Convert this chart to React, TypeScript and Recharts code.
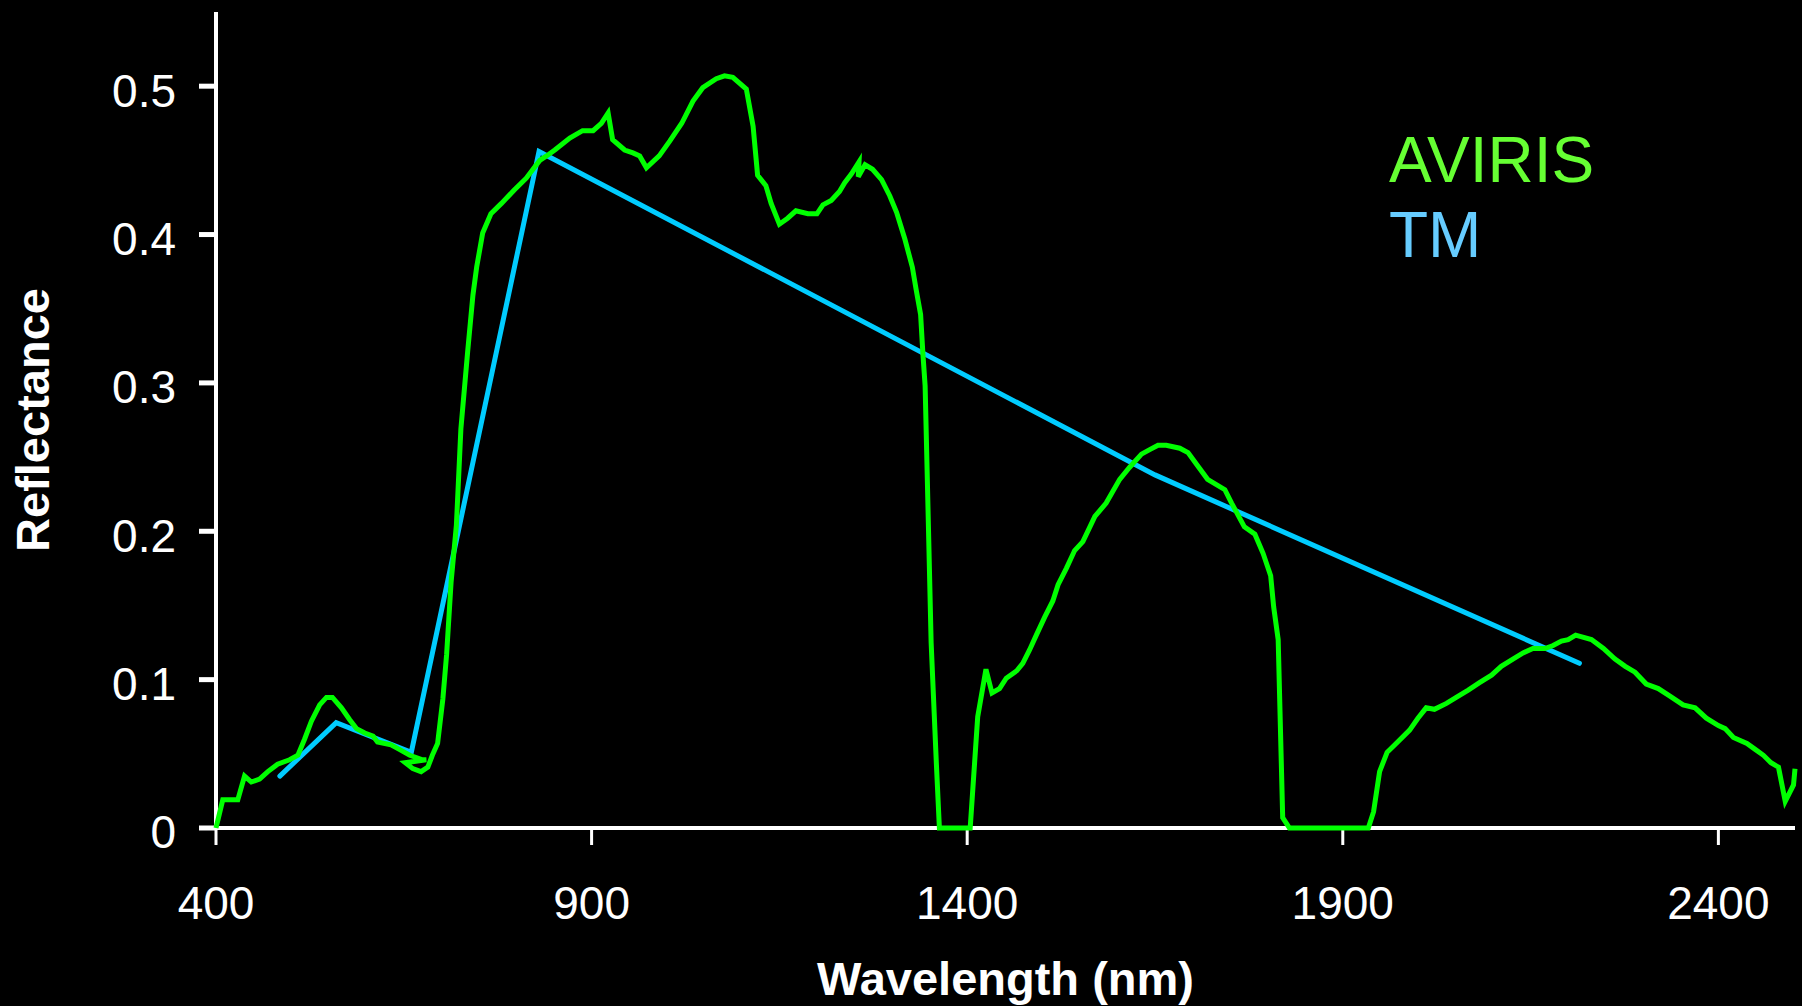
import { LineChart, Line, XAxis, YAxis, Legend } from 'recharts';

// AVIRIS spectrum (nm, reflectance); order kept as drawn
const avirisWavelength = [
  400, 409, 429, 438, 447, 458, 469, 482, 498, 509, 518, 527, 538, 547, 555, 567, 578, 587, 598, 609,
  615, 633, 644, 658, 675, 680, 652, 662, 673, 682, 688, 695, 702, 707, 713, 720, 726, 735, 742, 747,
  755, 766, 780, 797, 813, 822, 831, 840, 851, 871, 888, 902, 913, 922, 928, 944, 955, 964, 973, 990,
  1004, 1020, 1035, 1048, 1066, 1077, 1088, 1106, 1115, 1121, 1132, 1139, 1150, 1161, 1172, 1188, 1200, 1208, 1219, 1230,
  1237, 1246, 1256, 1255, 1264, 1274, 1286, 1297, 1306, 1317, 1327, 1332, 1338, 1341, 1344, 1348, 1352, 1359, 1363, 1404,
  1414, 1425, 1433, 1443, 1452, 1466, 1474, 1483, 1492, 1503, 1514, 1521, 1532, 1543, 1554, 1570, 1585, 1603, 1616, 1632,
  1643, 1654, 1665, 1683, 1694, 1707, 1720, 1743, 1752, 1769, 1783, 1794, 1804, 1808, 1814, 1820, 1829, 1934, 1941, 1949,
  1959, 1971, 1989, 2000, 2011, 2022, 2038, 2051, 2067, 2082, 2098, 2111, 2127, 2140, 2153, 2169, 2180, 2191, 2200, 2210,
  2231, 2247, 2262, 2276, 2289, 2304, 2320, 2335, 2353, 2369, 2384, 2400, 2409, 2420, 2438, 2449, 2460, 2470, 2480, 2489,
  2500, 2502,
];
const avirisReflectance = [
  0, 0.019, 0.019, 0.035, 0.031, 0.033, 0.038, 0.043, 0.046, 0.049, 0.06, 0.072, 0.083, 0.088, 0.088, 0.081, 0.073, 0.067, 0.064, 0.062,
  0.058, 0.056, 0.053, 0.049, 0.046, 0.046, 0.044, 0.04, 0.038, 0.041, 0.049, 0.057, 0.087, 0.117, 0.166, 0.204, 0.269, 0.321, 0.359, 0.378,
  0.401, 0.414, 0.421, 0.43, 0.438, 0.444, 0.45, 0.453, 0.457, 0.465, 0.47, 0.47, 0.475, 0.482, 0.464, 0.457, 0.455, 0.453, 0.445, 0.453,
  0.463, 0.475, 0.49, 0.499, 0.505, 0.507, 0.506, 0.498, 0.473, 0.44, 0.433, 0.421, 0.407, 0.411, 0.416, 0.414, 0.414, 0.42, 0.423, 0.429,
  0.435, 0.441, 0.449, 0.439, 0.447, 0.444, 0.437, 0.426, 0.415, 0.397, 0.378, 0.363, 0.346, 0.32, 0.298, 0.212, 0.125, 0.043, 0, 0,
  0.075, 0.107, 0.091, 0.094, 0.101, 0.106, 0.111, 0.12, 0.13, 0.142, 0.153, 0.164, 0.175, 0.187, 0.193, 0.21, 0.219, 0.235, 0.243, 0.252,
  0.255, 0.258, 0.258, 0.256, 0.253, 0.244, 0.235, 0.228, 0.219, 0.203, 0.198, 0.185, 0.17, 0.149, 0.127, 0.007, 0, 0, 0.011, 0.038,
  0.051, 0.057, 0.066, 0.074, 0.081, 0.08, 0.084, 0.088, 0.093, 0.098, 0.103, 0.109, 0.114, 0.118, 0.121, 0.121, 0.123, 0.126, 0.127, 0.13,
  0.127, 0.121, 0.114, 0.109, 0.105, 0.097, 0.094, 0.089, 0.083, 0.081, 0.074, 0.069, 0.067, 0.061, 0.057, 0.053, 0.049, 0.044, 0.041, 0.018,
  0.029, 0.04,
];

// Landsat TM band values
const tmWavelength = [485, 560, 660, 830, 1650, 2215];
const tmReflectance = [0.035, 0.071, 0.051, 0.456, 0.238, 0.111];

const xTicks = [400, 900, 1400, 1900, 2400];
const yTicks = [0, 0.1, 0.2, 0.3, 0.4, 0.5];

const seriesNames = ['AVIRIS', 'TM'];
const lineColors = ['#00ff00', '#00ccff'];
const legendColors = ['#66ff33', '#66ccff'];

const avirisData = avirisWavelength.map((wl, i) => ({ wl, refl: avirisReflectance[i] }));
const tmData = tmWavelength.map((wl, i) => ({ wl, refl: tmReflectance[i] }));

const font = '"Liberation Sans", Arial, sans-serif';

const renderLegend = () => (
  <div style={{ fontFamily: font, fontSize: 64, lineHeight: '75px' }}>
    {seriesNames.map((name, i) => (
      <div key={name} style={{ color: legendColors[i] }}>
        {name}
      </div>
    ))}
  </div>
);

export default function App() {
  return (
    <div style={{ position: 'fixed', left: 0, top: 0, width: 1802, height: 1006, background: '#000' }}>
      <LineChart width={1802} height={1006} margin={{ top: 12, right: 7, bottom: 0, left: 0 }}>
        <XAxis
          type="number"
          dataKey="wl"
          domain={[400, 2502]}
          ticks={xTicks}
          height={178}
          tickSize={17}
          tickMargin={41}
          axisLine={{ stroke: '#fff', strokeWidth: 4 }}
          tickLine={{ stroke: '#fff', strokeWidth: 3 }}
          tick={{ fill: '#fff', fontSize: 46, fontFamily: font }}
          label={{
            content: (props: any) => {
              const vb = props.viewBox || { x: 216, y: 828, width: 1579, height: 178 };
              return (
                <text
                  x={vb.x + vb.width / 2}
                  y={vb.y + 167}
                  textAnchor="middle"
                  fill="#fff"
                  fontSize={47}
                  fontWeight="bold"
                  fontFamily={font}
                >
                  Wavelength (nm)
                </text>
              );
            },
          }}
        />
        <YAxis
          type="number"
          domain={[0, 0.55]}
          ticks={yTicks}
          width={216}
          tickSize={17}
          tickMargin={23}
          axisLine={{ stroke: '#fff', strokeWidth: 4 }}
          tickLine={{ stroke: '#fff', strokeWidth: 5 }}
          tick={{ fill: '#fff', fontSize: 46, fontFamily: font, dy: 4 }}
          label={{
            content: (props: any) => {
              const vb = props.viewBox || { x: 0, y: 12, width: 216, height: 816 };
              const cy = vb.y + vb.height / 2;
              return (
                <text
                  x={49}
                  y={cy}
                  transform={`rotate(-90 49 ${cy})`}
                  textAnchor="middle"
                  fill="#fff"
                  fontSize={47}
                  fontWeight="bold"
                  fontFamily={font}
                >
                  Reflectance
                </text>
              );
            },
          }}
        />
        <Legend
          layout="vertical"
          align="center"
          verticalAlign="middle"
          content={renderLegend}
          wrapperStyle={{ left: 1389, top: 123, width: 'auto', height: 'auto' }}
        />
        <Line
          data={tmData}
          dataKey="refl"
          name={seriesNames[1]}
          stroke={lineColors[1]}
          strokeWidth={5}
          strokeLinecap="round"
          dot={false}
          activeDot={false}
          isAnimationActive={false}
          zIndex={600}
        />
        <Line
          data={avirisData}
          dataKey="refl"
          name={seriesNames[0]}
          stroke={lineColors[0]}
          strokeWidth={5}
          dot={false}
          activeDot={false}
          isAnimationActive={false}
          zIndex={650}
        />
      </LineChart>
    </div>
  );
}
